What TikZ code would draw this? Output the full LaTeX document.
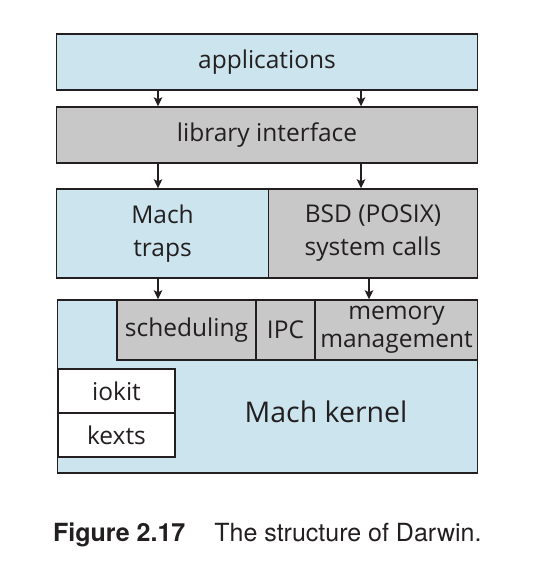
\documentclass[tikz,border=0pt]{standalone}
\usepackage{fontspec}
\setmainfont{Open Sans}
\newfontfamily\capfont{TeX Gyre Heros}
\usetikzlibrary{arrows.meta}
\definecolor{machblue}{HTML}{CCE4EE}
\definecolor{bsdgray}{HTML}{C8C8C8}
\definecolor{inkblack}{HTML}{231F20}

\tikzset{
  layer/.style={draw=inkblack, line width=1.4pt, inner sep=0pt, align=center,
    text=inkblack, font=\fontsize{24.5}{33}\selectfont},
  bluelayer/.style={layer, fill=machblue},
  graylayer/.style={layer, fill=bsdgray},
  whitelayer/.style={layer, fill=white},
  flow/.style={draw=inkblack, line width=1.3pt, ->},
}

\begin{document}
\begin{tikzpicture}[x=1pt, y=-1pt, >={Stealth[length=9pt, width=8.5pt, inset=2pt]}]
\useasboundingbox (0,0) rectangle (532,588);

% Arrow columns
\coordinate (lcol) at (158,0);
\coordinate (rcol) at (361,0);
\coordinate (bcol) at (369,0);

% User layers
\node[bluelayer, minimum width=421pt, minimum height=56pt] (apps) at (267,62) {applications};
\node[graylayer, minimum width=421pt, minimum height=56pt] (lib) at (267,135) {library interface};

% System call layer
\node[bluelayer, minimum width=212pt, minimum height=89pt] (traps) at (162.5,233.5) {Mach\\traps};
\node[graylayer, minimum width=209pt, minimum height=89pt] (bsd) at (373,233.5) {BSD (POSIX)\\system calls};

% Kernel
\node[bluelayer, minimum width=420pt, minimum height=173pt] (kernel) at (267.5,386.5) {};
\node[text=inkblack, font=\fontsize{28.5}{34}\selectfont] (klabel) at (326,412) {Mach kernel};
\node[graylayer, minimum width=139pt, minimum height=60pt] (sched) at (186.5,330) {scheduling};
\node[graylayer, minimum width=59pt, minimum height=60pt] (ipc) at (285.5,330) {IPC};
\node[graylayer, minimum width=162pt, minimum height=60pt] (mem) at (396.5,330) {memory\\[-5pt]management};
\node[whitelayer, minimum width=117pt, minimum height=44pt] (iokit) at (116.5,391) {iokit};
\node[whitelayer, minimum width=117pt, minimum height=44pt] (kexts) at (116.5,435) {kexts};

% Connectors
\draw[flow] (apps.south -| lcol) -- (lib.north -| lcol);
\draw[flow] (apps.south -| rcol) -- (lib.north -| rcol);
\draw[flow] (lib.south -| lcol) -- (traps.north -| lcol);
\draw[flow] (lib.south -| rcol) -- (bsd.north -| rcol);
\draw[flow] (traps.south -| lcol) -- (sched.north -| lcol);
\draw[flow] (bsd.south -| bcol) -- (mem.north -| bcol);

% Caption
\node[anchor=west, inner sep=0pt, text=inkblack, font=\capfont\fontsize{25}{30}\selectfont]
  (caption) at (53,535) {\textbf{Figure 2.17}\hspace{29pt}The structure of Darwin.};

\end{tikzpicture}
\end{document}
